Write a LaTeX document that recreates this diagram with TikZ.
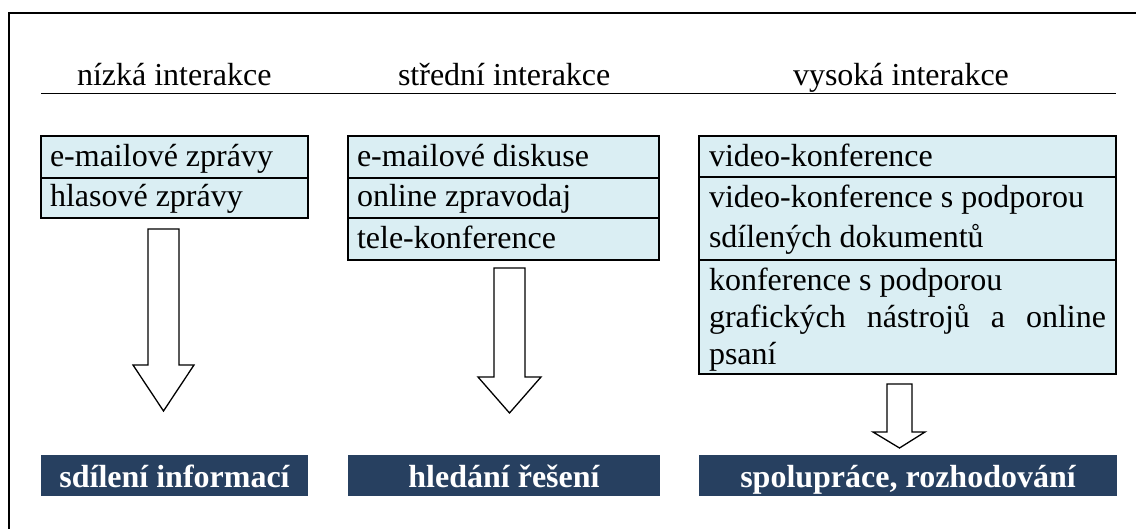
\documentclass[tikz,border=0pt]{standalone}
\usepackage{fontspec}
\setmainfont{Liberation Serif}
\definecolor{rowfill}{HTML}{DAEEF3}
\definecolor{resultfill}{HTML}{274060}
\begin{document}
\begin{tikzpicture}[x=1pt,y=-1pt,
  every node/.style={inner sep=0pt,outer sep=0pt,font=\fontsize{32}{37}\selectfont},
  rowbox/.style={draw=black,line width=1.3pt,fill=rowfill},
  itemtext/.style={anchor=base west},
  headtext/.style={anchor=base west},
  resultbox/.style={fill=resultfill},
  resulttext/.style={anchor=base,text=white,font=\fontsize{32}{37}\selectfont\bfseries},
  blockarrow/.style={draw=black,fill=white,line width=1.3pt,line join=miter}]
\useasboundingbox (0,0) rectangle (1136,529);

% outer frame (left and top edges)
\draw[line width=2pt] (8.5,529) -- (8.5,13) -- (1136,13);

% column headings and rule
\node[headtext] (h1) at (77,86) {nízká interakce};
\node[headtext] (h2) at (398,86) {střední interakce};
\node[headtext] (h3) at (793,86) {vysoká interakce};
\draw[line width=1.5pt] (41,93.5) -- (1116,93.5);

% low interaction
\draw[rowbox] (41,136) rectangle (308,178);
\draw[rowbox] (41,178) rectangle (308,218);
\node[itemtext] (a1) at (50,167) {e-mailové zprávy};
\node[itemtext] (a2) at (50,207) {hlasové zprávy};

% medium interaction
\draw[rowbox] (348,136) rectangle (659,178);
\draw[rowbox] (348,178) rectangle (659,218);
\draw[rowbox] (348,218) rectangle (659,260);
\node[itemtext] (b1) at (357,167) {e-mailové diskuse};
\node[itemtext] (b2) at (357,207) {online zpravodaj};
\node[itemtext] (b3) at (357,249) {tele-konference};

% high interaction
\draw[rowbox] (699,136) rectangle (1116,177);
\draw[rowbox] (699,177) rectangle (1116,260);
\draw[rowbox] (699,260) rectangle (1116,374);
\node[itemtext] (c1) at (709,167) {video-konference};
\node[itemtext] (c2) at (709,208) {video-konference s podporou};
\node[itemtext] (c3) at (709,248) {sdílených dokumentů};
\node[itemtext] (c4) at (709,291) {konference s podporou};
\node[itemtext] (c5) at (709,328) {\makebox[397pt][s]{grafických nástrojů a online}};
\node[itemtext] (c6) at (709,365) {psaní};

% block arrows
\draw[blockarrow] (148,229) -- (179,229) -- (179,365) -- (194,365) -- (163.5,411)
  -- (133,365) -- (148,365) -- cycle;
\draw[blockarrow] (494,268) -- (525,268) -- (525,377) -- (541,377) -- (509.5,413)
  -- (478,377) -- (494,377) -- cycle;
\draw[blockarrow] (887,384) -- (912,384) -- (912,432) -- (925,432) -- (899.5,448)
  -- (873,432) -- (887,432) -- cycle;

% outcomes
\fill[resultbox] (41,455) rectangle (308,496);
\fill[resultbox] (348,455) rectangle (660,496);
\fill[resultbox] (699,455) rectangle (1117,496);
\node[resulttext] (r1) at (174.5,487) {sdílení informací};
\node[resulttext] (r2) at (504,487) {hledání řešení};
\node[resulttext] (r3) at (908,487) {spolupráce, rozhodování};
\end{tikzpicture}
\end{document}
